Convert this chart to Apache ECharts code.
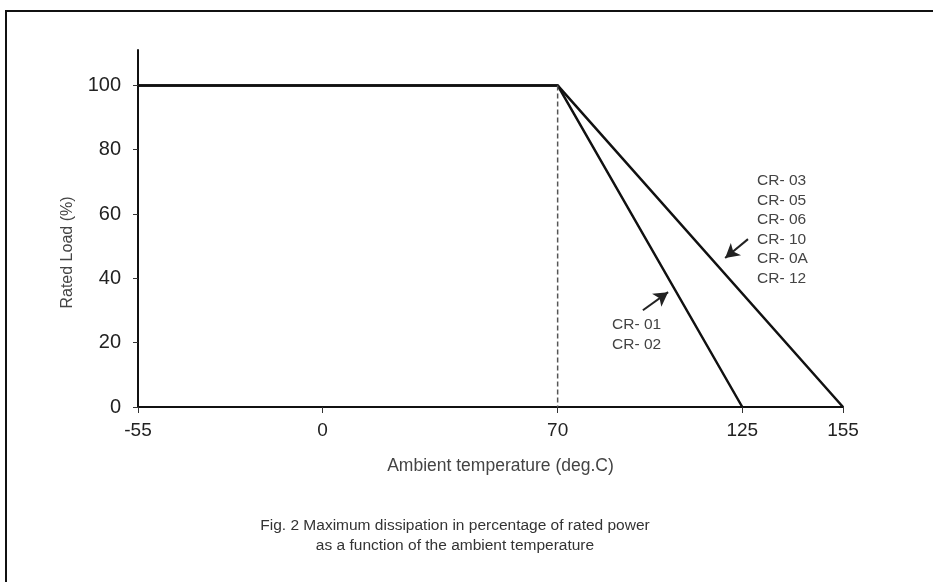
<!DOCTYPE html>
<html>
<head>
<meta charset="utf-8">
<script src="https://cdn.jsdelivr.net/npm/echarts@6/dist/echarts.min.js"></script>
<style>
html,body{margin:0;padding:0;background:#fff;}
#frame{position:absolute;left:5px;top:10px;width:940px;height:600px;border-top:2px solid #111;border-left:2px solid #111;}
#chart{position:absolute;left:0;top:0;width:933px;height:582px;}
</style>
</head>
<body>
<div id="frame"></div>
<div id="chart"></div>
<script>
// ---- data ----
const xTickValues = [-55, 0, 70, 125, 155];
const yTickValues = [0, 20, 40, 60, 80, 100];
const curveLong = [[-55, 100], [70, 100], [155, 0]];   // CR-03..CR-12
const curveShort = [[-55, 100], [70, 100], [125, 0]];  // CR-01, CR-02
const kneeLine = [[70, 100], [70, 0]];
const shortLabels = ['CR- 01', 'CR- 02'];
const longLabels = ['CR- 03', 'CR- 05', 'CR- 06', 'CR- 10', 'CR- 0A', 'CR- 12'];
const shortArrow = [[95.4, 30.1], [102.9, 35.7]];
const longArrow = [[126.7, 52.2], [119.9, 46.3]];
const shortLabelPos = [86.2, 22.4];
const longLabelPos = [129.4, 55.1];

const chart = echarts.init(document.getElementById('chart'));
const font = 'Liberation Sans, Arial, sans-serif';
chart.setOption({
  animation: false,
  backgroundColor: 'transparent',
  title: {
    text: 'Fig. 2 Maximum dissipation in percentage of rated power\nas a function of the ambient temperature',
    left: 450, top: 511, textAlign: 'center',
    textStyle: {fontFamily: font, fontSize: 15.5, fontWeight: 'normal', color: '#333', lineHeight: 19.5, align: 'center'}
  },
  grid: {left: 138, right: 90, top: 50, bottom: 175},
  xAxis: {
    type: 'value', min: -55, max: 155,
    name: 'Ambient temperature (deg.C)', nameLocation: 'middle', nameGap: 50,
    nameTextStyle: {fontFamily: font, fontSize: 17.5, color: '#444', padding: [0, 0, 0, 20]},
    axisLine: {show: true, onZero: false, lineStyle: {color: '#111', width: 2}},
    axisTick: {show: true, customValues: xTickValues, length: 6, lineStyle: {color: '#333', width: 1}},
    axisLabel: {customValues: xTickValues, fontFamily: font, fontSize: 19, color: '#222', margin: 14},
    splitLine: {show: false}
  },
  yAxis: {
    type: 'value', min: 0, max: 111,
    name: 'Rated Load (%)', nameLocation: 'middle', nameGap: 62, nameRotate: 90,
    nameTextStyle: {fontFamily: font, fontSize: 16, color: '#444', padding: [0, 0, 0, -48]},
    axisLine: {show: true, onZero: false, lineStyle: {color: '#111', width: 2}},
    axisTick: {show: true, customValues: yTickValues, length: 5, lineStyle: {color: '#333', width: 1}},
    axisLabel: {customValues: yTickValues, fontFamily: font, fontSize: 20, color: '#222', margin: 17},
    splitLine: {show: false}
  },
  series: [
    {
      type: 'line', data: curveLong, symbol: 'none',
      lineStyle: {color: '#111', width: 2.5},
      markLine: {
        silent: true, symbolSize: [12, 14],
        lineStyle: {color: '#222', width: 2, type: 'solid'},
        label: {show: false},
        data: [[{coord: longArrow[0], symbol: 'none'}, {coord: longArrow[1], symbol: 'arrow'}]]
      },
      markPoint: {
        silent: true, symbol: 'circle', symbolSize: 0,
        label: {show: true, position: 'right', distance: 0, fontFamily: font, fontSize: 15.5, color: '#444', lineHeight: 19.5, formatter: longLabels.join('\n')},
        data: [{coord: longLabelPos}]
      }
    },
    {
      type: 'line', data: curveShort, symbol: 'none',
      lineStyle: {color: '#111', width: 2.5},
      markLine: {
        silent: true, symbolSize: [12, 14],
        lineStyle: {color: '#222', width: 2, type: 'solid'},
        label: {show: false},
        data: [[{coord: shortArrow[0], symbol: 'none'}, {coord: shortArrow[1], symbol: 'arrow'}]]
      },
      markPoint: {
        silent: true, symbol: 'circle', symbolSize: 0,
        label: {show: true, position: 'right', distance: 0, fontFamily: font, fontSize: 15.5, color: '#444', lineHeight: 20, formatter: shortLabels.join('\n')},
        data: [{coord: shortLabelPos}]
      }
    },
    {
      type: 'line', data: kneeLine, symbol: 'none',
      lineStyle: {color: '#555', width: 1.5, type: [5, 3]}
    }
  ]
});
</script>
</body>
</html>
